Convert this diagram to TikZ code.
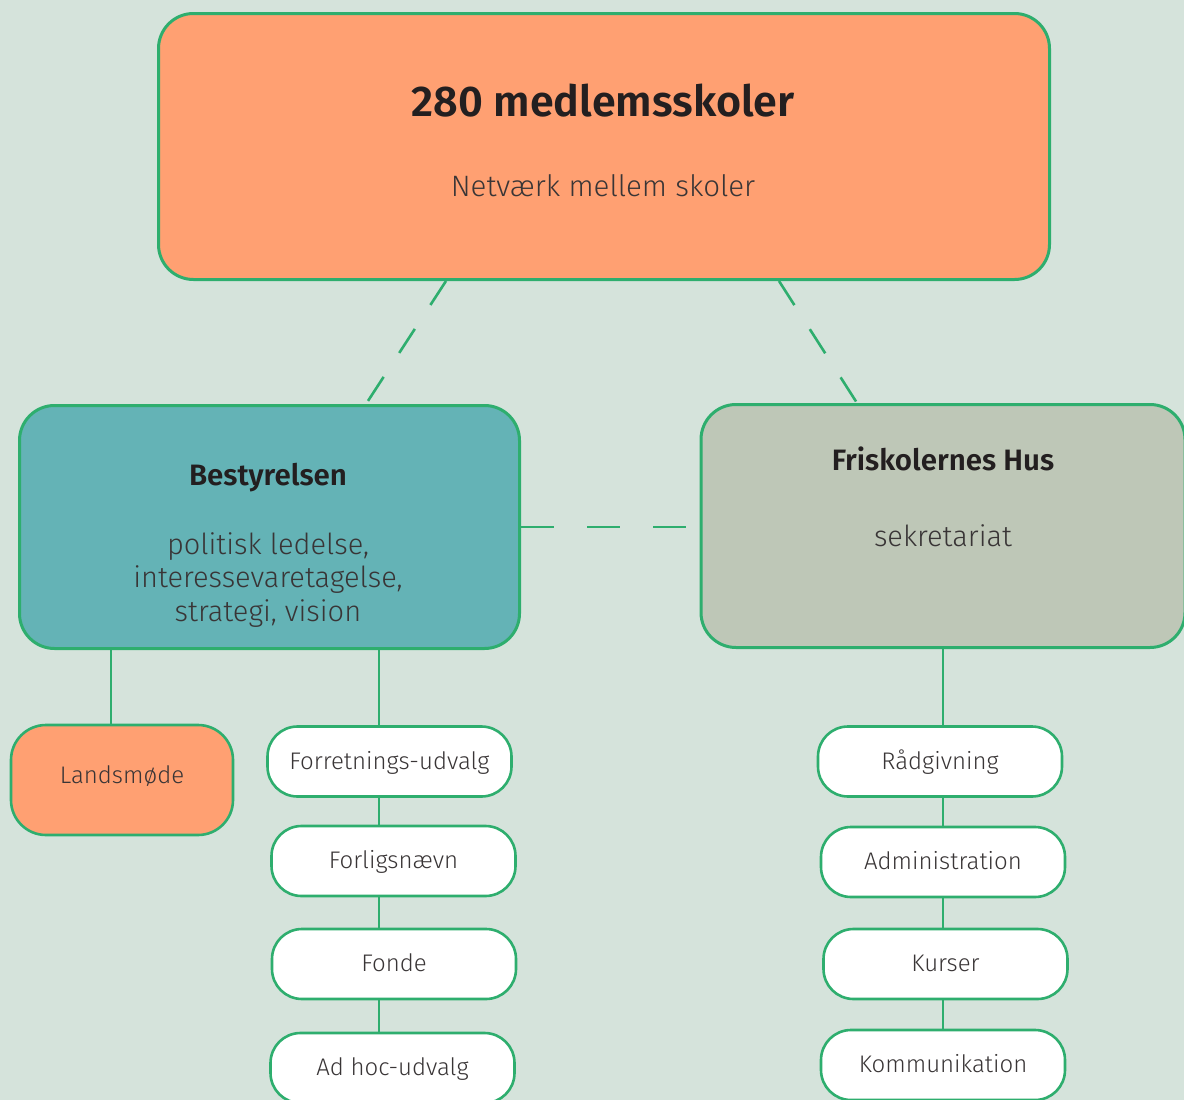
\documentclass[tikz,border=0pt]{standalone}
\usepackage{fontspec}
\setmainfont{Fira Sans Light}[BoldFont={Fira Sans SemiBold}]
\usetikzlibrary{positioning}
\definecolor{bgmint}{HTML}{D5E3DB}
\definecolor{linegreen}{HTML}{2EAE6E}
\definecolor{boxorange}{HTML}{FFA072}
\definecolor{boxteal}{HTML}{64B3B6}
\definecolor{boxgrey}{HTML}{BEC7B7}
\definecolor{textdark}{HTML}{231F20}
\tikzset{
  bigbox/.style={draw=linegreen,line width=3pt,rounded corners=35pt},
  smallbox/.style={draw=linegreen,line width=2.6pt,fill=white,rounded corners=30pt,
    minimum width=244pt,minimum height=70pt,text height=21pt,text depth=6pt,
    inner sep=0pt,text=textdark!90,font=\fontsize{24}{28}\selectfont},
  heading/.style={text=textdark,inner sep=0pt,font=\fontsize{29.5}{34}\selectfont\bfseries},
  bodytext/.style={text=textdark!90,inner sep=0pt,align=center,font=\fontsize{29}{33.5}\selectfont},
  link/.style={draw=linegreen,line width=2.6pt},
  dashlink/.style={link,dash pattern=on 28.6pt off 28.6pt},
}

\begin{document}
\begin{tikzpicture}[x=1pt,y=-1pt]
  \fill[bgmint] (0,0) rectangle (1184,1100);
  \useasboundingbox (0,0) rectangle (1184,1100);
  \clip (0,0) rectangle (1184,1100);

  % top level
  \node[bigbox,fill=boxorange,minimum width=891pt,minimum height=266pt] (skoler) at (604,146.5) {};
  \node[text=textdark,inner sep=0pt,font=\fontsize{43}{50}\selectfont\bfseries] (skolertitle) at (603,101) {280 medlemsskoler};
  \node[bodytext,font=\fontsize{29.5}{35}\selectfont] (skolersub) at (603,186) {Netværk mellem skoler};

  % board and secretariat
  \node[bigbox,fill=boxteal,minimum width=500pt,minimum height=243pt] (best) at (269.5,527) {};
  \node[heading,anchor=base] (besttitle) at (268,485) {Bestyrelsen};
  \node[bodytext] (bestsub) at (268,580) {politisk ledelse,\\interessevaretagelse,\\strategi, vision};

  \node[bigbox,fill=boxgrey,minimum width=484pt,minimum height=243pt] (hus) at (943,526) {};
  \node[heading,anchor=base] (hustitle) at (943,470) {Friskolernes Hus};
  \node[bodytext,anchor=base] (hussub) at (943,546) {sekretariat};

  % sub units
  \node[smallbox,fill=boxorange,minimum width=222pt,minimum height=110pt,rounded corners=35pt,
        text height=21pt,text depth=15pt] (lands) at (122,780) {Landsmøde};

  \node[smallbox] (udv1) at (389.5,761.5) {Forretnings-udvalg};
  \node[smallbox] (udv2) at (393.5,861) {Forligsnævn};
  \node[smallbox] (udv3) at (394,964) {Fonde};
  \node[smallbox] (udv4) at (392.5,1068) {Ad hoc-udvalg};

  \node[smallbox] (rad) at (940,761.5) {Rådgivning};
  \node[smallbox] (adm) at (943,862) {Administration};
  \node[smallbox] (kur) at (945.5,964) {Kurser};
  \node[smallbox] (kom) at (943,1065) {Kommunikation};

  % connectors
  \draw[dashlink] ([xshift=-158pt]skoler.south) -- ([xshift=96.5pt]best.north);
  \draw[dashlink] ([xshift=175pt]skoler.south) -- ([xshift=-86pt]hus.north);
  \draw[link,dash pattern=on 33pt off 33pt] (best.east) -- (best.east -| hus.west);

  \coordinate (lstem) at (111,0);
  \coordinate (lspine) at (379,0);
  \draw[link] (best.south -| lstem) -- (lands.north -| lstem);
  \draw[link] (best.south -| lspine) -- (udv1.north -| lspine);
  \draw[link] (udv1.south -| lspine) -- (udv2.north -| lspine);
  \draw[link] (udv2.south -| lspine) -- (udv3.north -| lspine);
  \draw[link] (udv3.south -| lspine) -- (udv4.north -| lspine);

  \draw[link] (hus.south) -- (rad.north -| hus.south);
  \draw[link] (rad.south -| hus.south) -- (adm.north -| hus.south);
  \draw[link] (adm.south -| hus.south) -- (kur.north -| hus.south);
  \draw[link] (kur.south -| hus.south) -- (kom.north -| hus.south);
\end{tikzpicture}
\end{document}
